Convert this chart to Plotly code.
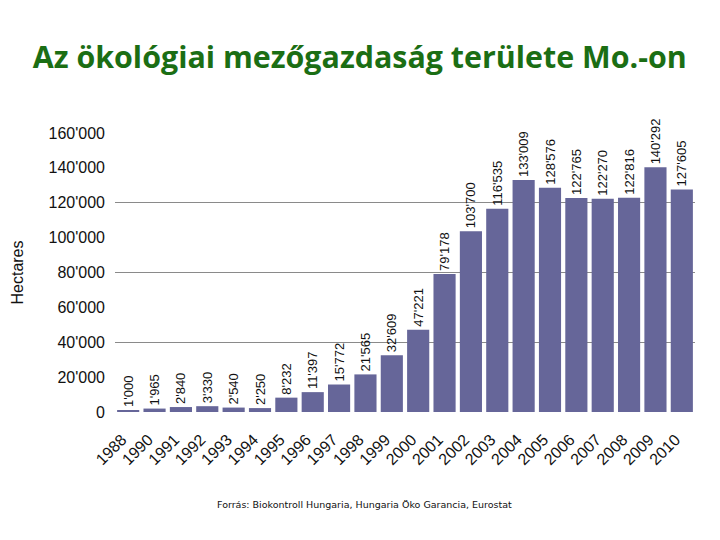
import plotly.graph_objects as go

years = ["1988", "1990", "1991", "1992", "1993", "1994", "1995", "1996", "1997", "1998",
         "1999", "2000", "2001", "2002", "2003", "2004", "2005", "2006", "2007", "2008",
         "2009", "2010"]
hectares = [1000, 1965, 2840, 3330, 2540, 2250, 8232, 11397, 15772, 21565,
            32609, 47221, 79178, 103700, 116535, 133009, 128576, 122765, 122270, 122816,
            140292, 127605]
y_ticks = [0, 20000, 40000, 60000, 80000, 100000, 120000, 140000, 160000]
grid_vals = [40000, 80000, 120000]

def fmt(v):
    return f"{v:,}".replace(",", "'")

labels = [fmt(v) for v in hectares]

fig = go.Figure()
fig.add_trace(go.Bar(
    x=years, y=hectares, text=labels, textposition="outside", textangle=-90,
    constraintext="none", cliponaxis=False,
    textfont=dict(family="Liberation Sans, Arial", size=13, color="#111111"),
    marker=dict(color="#666699", line=dict(width=0)),
    hoverinfo="x+y",
))
# helper invisible trace for second y axis gridlines
fig.add_trace(go.Scatter(x=[years[0]], y=[0], yaxis="y2", mode="lines",
                         line=dict(width=0), showlegend=False, hoverinfo="skip"))

fig.update_layout(
    width=712, height=532,
    margin=dict(l=107, r=25, t=125, b=128),
    paper_bgcolor="white", plot_bgcolor="white",
    showlegend=False,
    bargap=0.16,
    title=dict(text="<b>Az ökológiai mezőgazdaság területe Mo.-on</b>",
               x=0.494, xanchor="center", y=0.908, yanchor="middle",
               font=dict(family="Open Sans, Noto Sans", size=30.4, color="#1b6e14")),
    xaxis=dict(tickangle=-45, showgrid=False, showline=False, zeroline=False, ticks="",
               range=[-0.5, len(years) - 0.5],
               tickvals=years, ticktext=[y + "\u00a0\u00a0" for y in years],
               ticklabelstandoff=8, automargin=False,
               tickfont=dict(family="Liberation Sans, Arial", size=16, color="#111111")),
    yaxis=dict(range=[0, 160000], tickvals=y_ticks, ticktext=[fmt(v) for v in y_ticks],
               showgrid=False, zeroline=False, showline=False, ticks="",
               ticklabelstandoff=9, automargin=False,
               tickfont=dict(family="Liberation Sans, Arial", size=16, color="#111111"),
               title=dict(text="Hectares", standoff=20,
                          font=dict(family="Liberation Sans, Arial", size=16, color="#111111"))),
    yaxis2=dict(range=[0, 160000], overlaying="y", tickvals=grid_vals, showticklabels=False,
                showgrid=True, gridcolor="#8a8a8a", gridwidth=1, zeroline=False, ticks=""),
    annotations=[dict(text="Forrás: Biokontroll Hungaria, Hungaria Öko Garancia, Eurostat",
                      xref="paper", yref="paper", x=0.43, y=-0.333, showarrow=False,
                      xanchor="center", yanchor="middle",
                      font=dict(family="DejaVu Sans", size=9.5, color="#111111"))],
)

fig.write_html("out.html")
